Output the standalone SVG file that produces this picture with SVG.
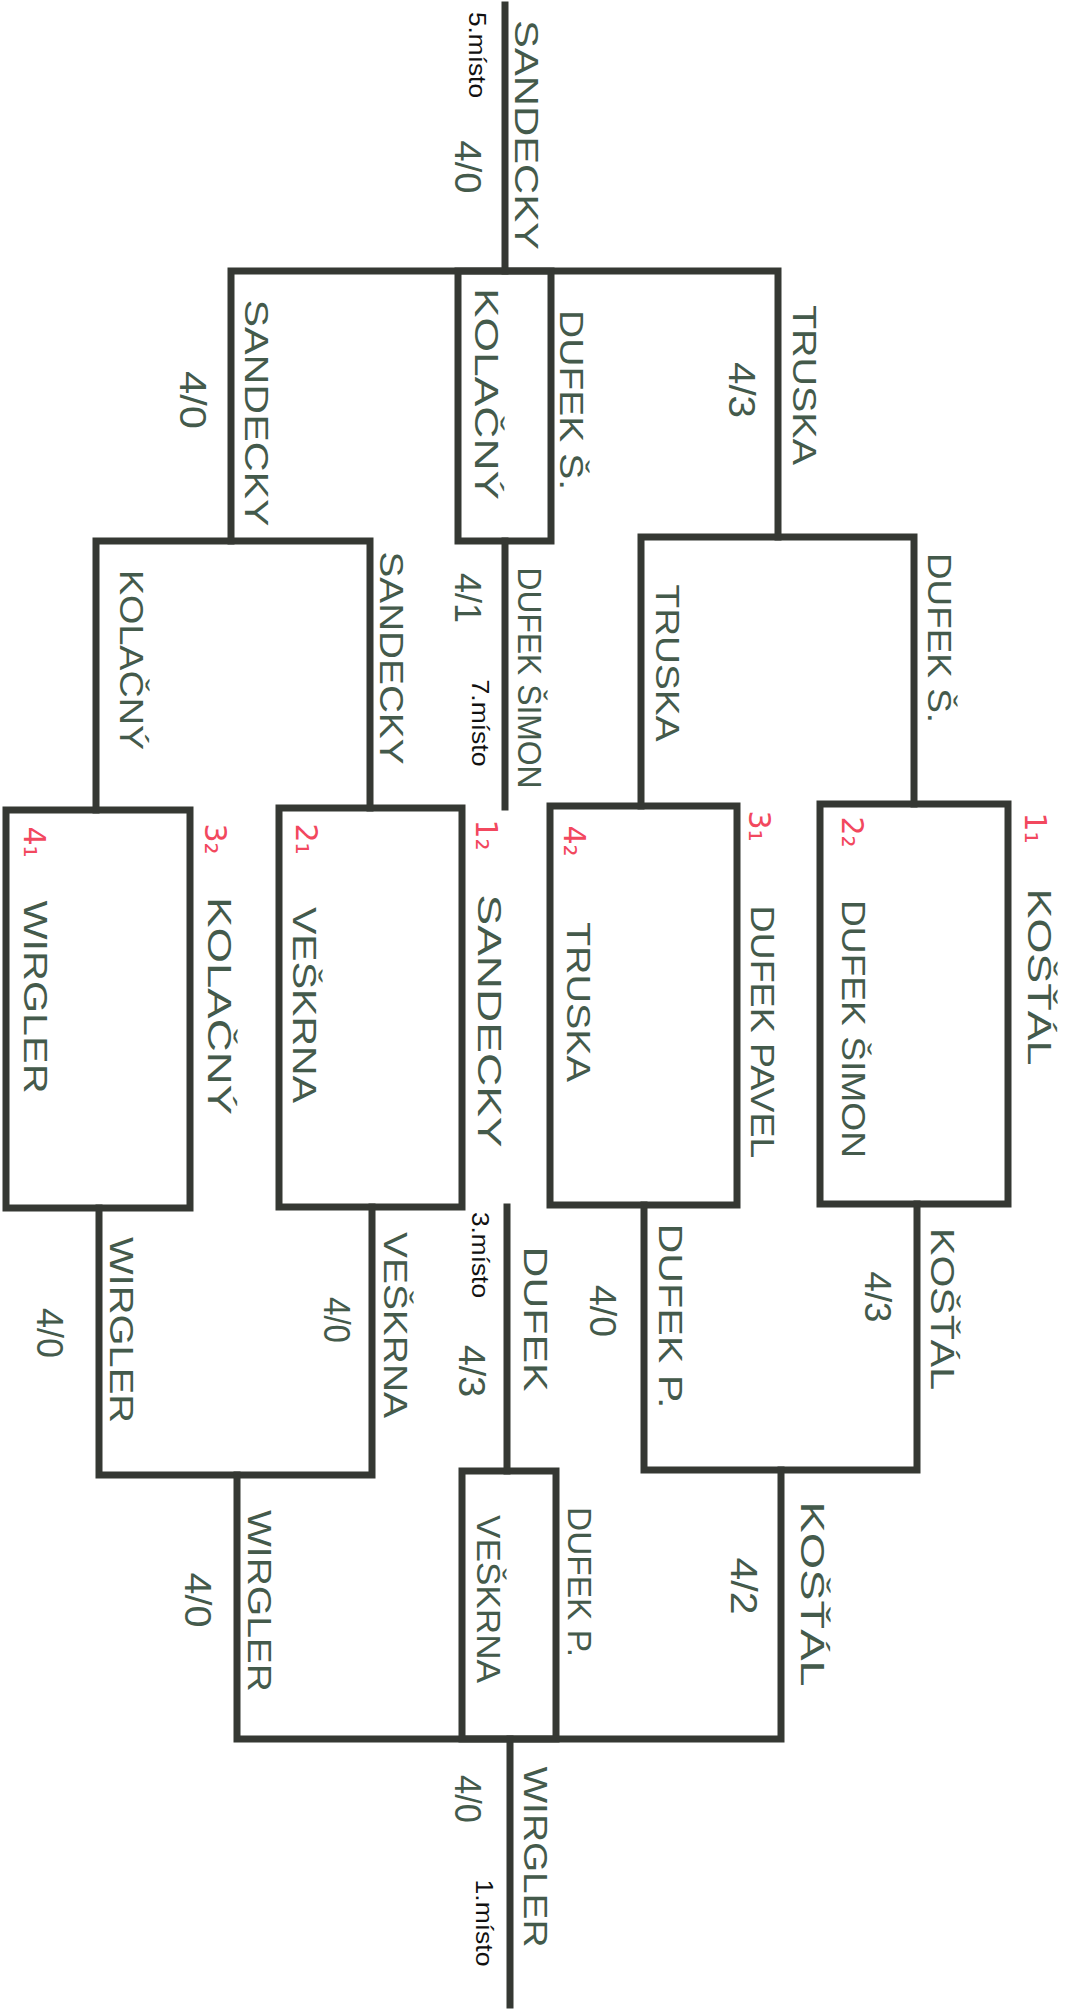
<svg xmlns="http://www.w3.org/2000/svg" width="1072" height="2010" viewBox="0 0 1072 2010">
<style>
.ln{fill:none;stroke:#353833;stroke-width:7;stroke-linecap:square;stroke-linejoin:miter}
.bx{fill:none;stroke:#353833;stroke-width:7}
.hw{font-family:"Liberation Sans",Arial,sans-serif;font-size:33px;fill:#445a4b;text-anchor:middle}
.sc{font-family:"Liberation Sans",Arial,sans-serif;font-size:37px;fill:#445a4b;text-anchor:middle}
.pr{font-family:"Liberation Sans",Arial,sans-serif;font-size:23px;fill:#111;text-anchor:middle}
.rd{font-family:"DejaVu Sans",sans-serif;font-size:30px;fill:#f2485e;text-anchor:middle}
</style>
<rect width="1072" height="2010" fill="#ffffff"/>
<g id="connectors">
<path class="ln" d="M505,5 V271"/>
<path class="ln" d="M231,541 V271 H778 V537"/>
<path class="ln" d="M96,810 V541 H370 V808"/>
<path class="ln" d="M505,541 V807"/>
<path class="ln" d="M641,806 V537 H914 V804"/>
<path class="ln" d="M99,1208 V1475 H372 V1207"/>
<path class="ln" d="M507,1207 V1471"/>
<path class="ln" d="M644,1205 V1470 H917 V1204"/>
<path class="ln" d="M237,1475 V1739 H781 V1470"/>
<path class="ln" d="M510,1739 V2005"/>
</g>
<g id="match-top-kolacny">
<rect class="bx" x="458" y="271" width="93" height="270"/>
<text class="hw" transform="translate(487,394) rotate(90)" dy="0.36em" textLength="212" lengthAdjust="spacingAndGlyphs">KOLAČNÝ</text>
</g>
<g id="box-wirgler">
<rect class="bx" x="6" y="810" width="184" height="398"/>
<text class="rd" transform="translate(35,842) rotate(90)" dy="0.36em">4₁</text>
<text class="hw" transform="translate(36,997) rotate(90)" dy="0.36em" textLength="193" lengthAdjust="spacingAndGlyphs">WIRGLER</text>
</g>
<g id="box-veskrna">
<rect class="bx" x="279" y="808" width="183" height="399"/>
<text class="rd" transform="translate(307,839) rotate(90)" dy="0.36em">2₁</text>
<text class="hw" transform="translate(305,1005) rotate(90)" dy="0.36em" textLength="196" lengthAdjust="spacingAndGlyphs">VEŠKRNA</text>
</g>
<g id="box-truska">
<rect class="bx" x="550" y="806" width="187" height="399"/>
<text class="rd" transform="translate(575,841) rotate(90)" dy="0.36em">4₂</text>
<text class="hw" transform="translate(579,1002) rotate(90)" dy="0.36em" textLength="160" lengthAdjust="spacingAndGlyphs">TRUSKA</text>
</g>
<g id="box-dufek-simon">
<rect class="bx" x="820" y="804" width="188" height="400"/>
<text class="rd" transform="translate(853,832) rotate(90)" dy="0.36em">2₂</text>
<text class="hw" transform="translate(854,1029) rotate(90)" dy="0.36em" textLength="258" lengthAdjust="spacingAndGlyphs">DUFEK ŠIMON</text>
</g>
<g id="match-bottom-veskrna">
<rect class="bx" x="462" y="1471" width="94" height="268"/>
<text class="hw" transform="translate(489,1599) rotate(90)" dy="0.36em" textLength="168" lengthAdjust="spacingAndGlyphs">VEŠKRNA</text>
</g>
<g id="labels">
<text class="hw" transform="translate(527,135) rotate(90)" dy="0.36em" textLength="230" lengthAdjust="spacingAndGlyphs">SANDECKY</text>
<text class="sc" transform="translate(468,167) rotate(90)" dy="0.36em" textLength="53" lengthAdjust="spacingAndGlyphs">4/0</text>
<text class="hw" transform="translate(257,413) rotate(90)" dy="0.36em" textLength="227" lengthAdjust="spacingAndGlyphs">SANDECKY</text>
<text class="sc" transform="translate(193,400) rotate(90)" dy="0.36em" textLength="58" lengthAdjust="spacingAndGlyphs">4/0</text>
<text class="hw" transform="translate(572,400) rotate(90)" dy="0.36em" textLength="180" lengthAdjust="spacingAndGlyphs">DUFEK Š.</text>
<text class="hw" transform="translate(805,385) rotate(90)" dy="0.36em" textLength="160" lengthAdjust="spacingAndGlyphs">TRUSKA</text>
<text class="sc" transform="translate(742,390) rotate(90)" dy="0.36em" textLength="56" lengthAdjust="spacingAndGlyphs">4/3</text>
<text class="hw" transform="translate(132,660) rotate(90)" dy="0.36em" textLength="180" lengthAdjust="spacingAndGlyphs">KOLAČNÝ</text>
<text class="hw" transform="translate(392,658) rotate(90)" dy="0.36em" textLength="213" lengthAdjust="spacingAndGlyphs">SANDECKY</text>
<text class="sc" transform="translate(468,598) rotate(90)" dy="0.36em" textLength="50" lengthAdjust="spacingAndGlyphs">4/1</text>
<text class="hw" transform="translate(530,678) rotate(90)" dy="0.36em" textLength="221" lengthAdjust="spacingAndGlyphs">DUFEK ŠIMON</text>
<text class="hw" transform="translate(668,663) rotate(90)" dy="0.36em" textLength="157" lengthAdjust="spacingAndGlyphs">TRUSKA</text>
<text class="hw" transform="translate(940,638) rotate(90)" dy="0.36em" textLength="170" lengthAdjust="spacingAndGlyphs">DUFEK Š.</text>
<text class="rd" transform="translate(216,839) rotate(90)" dy="0.36em">3₂</text>
<text class="hw" transform="translate(220,1006) rotate(90)" dy="0.36em" textLength="218" lengthAdjust="spacingAndGlyphs">KOLAČNÝ</text>
<text class="rd" transform="translate(487,835) rotate(90)" dy="0.36em">1₂</text>
<text class="hw" transform="translate(490,1021) rotate(90)" dy="0.36em" textLength="253" lengthAdjust="spacingAndGlyphs">SANDECKY</text>
<text class="rd" transform="translate(760,826) rotate(90)" dy="0.36em">3₁</text>
<text class="hw" transform="translate(763,1032) rotate(90)" dy="0.36em" textLength="253" lengthAdjust="spacingAndGlyphs">DUFEK PAVEL</text>
<text class="rd" transform="translate(1036,828) rotate(90)" dy="0.36em">1₁</text>
<text class="hw" transform="translate(1040,977) rotate(90)" dy="0.36em" textLength="177" lengthAdjust="spacingAndGlyphs">KOŠŤÁL</text>
<text class="hw" transform="translate(122,1330) rotate(90)" dy="0.36em" textLength="186" lengthAdjust="spacingAndGlyphs">WIRGLER</text>
<text class="sc" transform="translate(50,1333) rotate(90)" dy="0.36em" textLength="50" lengthAdjust="spacingAndGlyphs">4/0</text>
<text class="hw" transform="translate(396,1325) rotate(90)" dy="0.36em" textLength="186" lengthAdjust="spacingAndGlyphs">VEŠKRNA</text>
<text class="sc" transform="translate(337,1320) rotate(90)" dy="0.36em" textLength="46" lengthAdjust="spacingAndGlyphs">4/0</text>
<text class="hw" transform="translate(536,1319) rotate(90)" dy="0.36em" textLength="145" lengthAdjust="spacingAndGlyphs">DUFEK</text>
<text class="sc" transform="translate(472,1371) rotate(90)" dy="0.36em" textLength="52" lengthAdjust="spacingAndGlyphs">4/3</text>
<text class="sc" transform="translate(603,1311) rotate(90)" dy="0.36em" textLength="52" lengthAdjust="spacingAndGlyphs">4/0</text>
<text class="hw" transform="translate(671,1316) rotate(90)" dy="0.36em" textLength="185" lengthAdjust="spacingAndGlyphs">DUFEK P.</text>
<text class="sc" transform="translate(878,1297) rotate(90)" dy="0.36em" textLength="51" lengthAdjust="spacingAndGlyphs">4/3</text>
<text class="hw" transform="translate(943,1309) rotate(90)" dy="0.36em" textLength="162" lengthAdjust="spacingAndGlyphs">KOŠŤÁL</text>
<text class="hw" transform="translate(260,1601) rotate(90)" dy="0.36em" textLength="182" lengthAdjust="spacingAndGlyphs">WIRGLER</text>
<text class="sc" transform="translate(198,1600) rotate(90)" dy="0.36em" textLength="55" lengthAdjust="spacingAndGlyphs">4/0</text>
<text class="hw" transform="translate(580,1582) rotate(90)" dy="0.36em" textLength="150" lengthAdjust="spacingAndGlyphs">DUFEK P.</text>
<text class="sc" transform="translate(744,1586) rotate(90)" dy="0.36em" textLength="57" lengthAdjust="spacingAndGlyphs">4/2</text>
<text class="hw" transform="translate(813,1594) rotate(90)" dy="0.36em" textLength="185" lengthAdjust="spacingAndGlyphs">KOŠŤÁL</text>
<text class="hw" transform="translate(536,1857) rotate(90)" dy="0.36em" textLength="181" lengthAdjust="spacingAndGlyphs">WIRGLER</text>
<text class="sc" transform="translate(468,1799) rotate(90)" dy="0.36em" textLength="48" lengthAdjust="spacingAndGlyphs">4/0</text>
<text class="pr" transform="translate(477,55) rotate(90)" dy="0.36em" textLength="86" lengthAdjust="spacingAndGlyphs">5.místo</text>
<text class="pr" transform="translate(480,723) rotate(90)" dy="0.36em" textLength="87" lengthAdjust="spacingAndGlyphs">7.místo</text>
<text class="pr" transform="translate(480,1255) rotate(90)" dy="0.36em" textLength="86" lengthAdjust="spacingAndGlyphs">3.místo</text>
<text class="pr" transform="translate(484,1923) rotate(90)" dy="0.36em" textLength="87" lengthAdjust="spacingAndGlyphs">1.místo</text>
</g>
</svg>
